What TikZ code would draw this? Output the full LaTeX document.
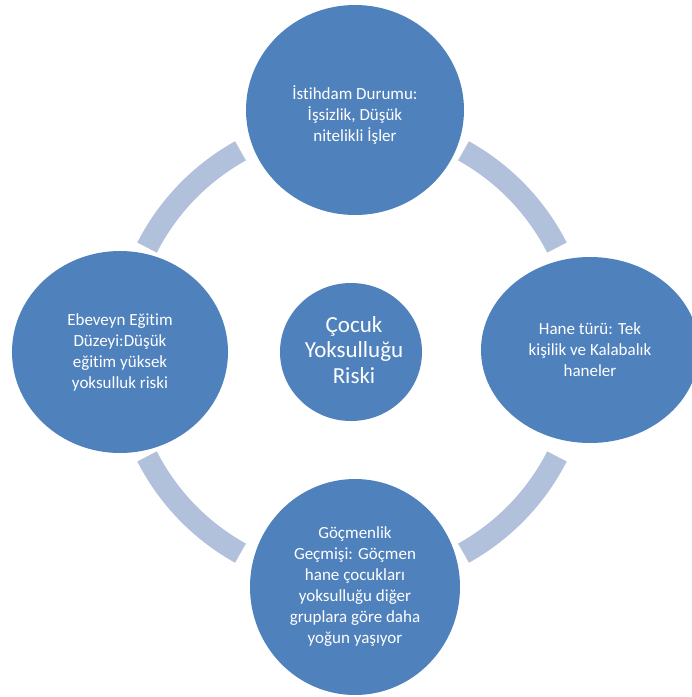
\documentclass[tikz,border=0pt]{standalone}
\usepackage{fontspec}
\setmainfont{Carlito}[RawFeature={-liga;-clig}]
\usetikzlibrary{shapes.geometric}
\definecolor{boxblue}{HTML}{4F81BD}
\definecolor{ringblue}{HTML}{B2C1DB}
\begin{document}
\begin{tikzpicture}[x=1pt,y=-1pt,
  bub/.style={ellipse, fill=boxblue, text=white, inner sep=0pt, align=center,
    font=\fontsize{17}{21}\selectfont},
  bubtext/.style={text=white, inner sep=0pt, align=center, font=\fontsize{17}{21}\selectfont},
  ringarc/.style={draw=ringblue, line width=22pt}]
\useasboundingbox (0,0) rectangle (692,697);
\coordinate (rc) at (352,352);
% ring segments
\draw[ringarc] (rc) ++(-153:230) arc[start angle=-153, end angle=-119, radius=230];
\draw[ringarc] (rc) ++(-61:230) arc[start angle=-61, end angle=-27, radius=230];
\draw[ringarc] (rc) ++(27:230) arc[start angle=27, end angle=61, radius=230];
\draw[ringarc] (rc) ++(119:230) arc[start angle=119, end angle=153, radius=230];
% circles
\node[bub, minimum width=218pt, minimum height=210pt] (top) at (355,110) {};
\node[bubtext] (toptext) at (355,114.5)
  {İstihdam Durumu:\\İşsizlik, Düşük\\nitelikli İşler};
\node[bub, minimum width=218pt, minimum height=186pt] (right) at (590,350)
  {Hane türü: Tek\\kişilik ve Kalabalık\\haneler};
\node[bub, minimum width=216pt, minimum height=202pt] (left) at (120,352)
  {Ebeveyn Eğitim\\Düzeyi:Düşük\\eğitim yüksek\\yoksulluk riski};
\node[bub, minimum width=210pt, minimum height=216pt] (bottom) at (355,587)
  {Göçmenlik\\Geçmişi: Göçmen\\hane çocukları\\yoksulluğu diğer\\gruplara göre daha\\yoğun yaşıyor};
\node[bub, minimum width=142pt, minimum height=138pt] (center) at (351,352) {};
\node[bubtext, font=\fontsize{23}{25.5}\selectfont] (centertext) at (354,350)
  {Çocuk\\Yoksulluğu\\Riski};
\end{tikzpicture}
\end{document}
